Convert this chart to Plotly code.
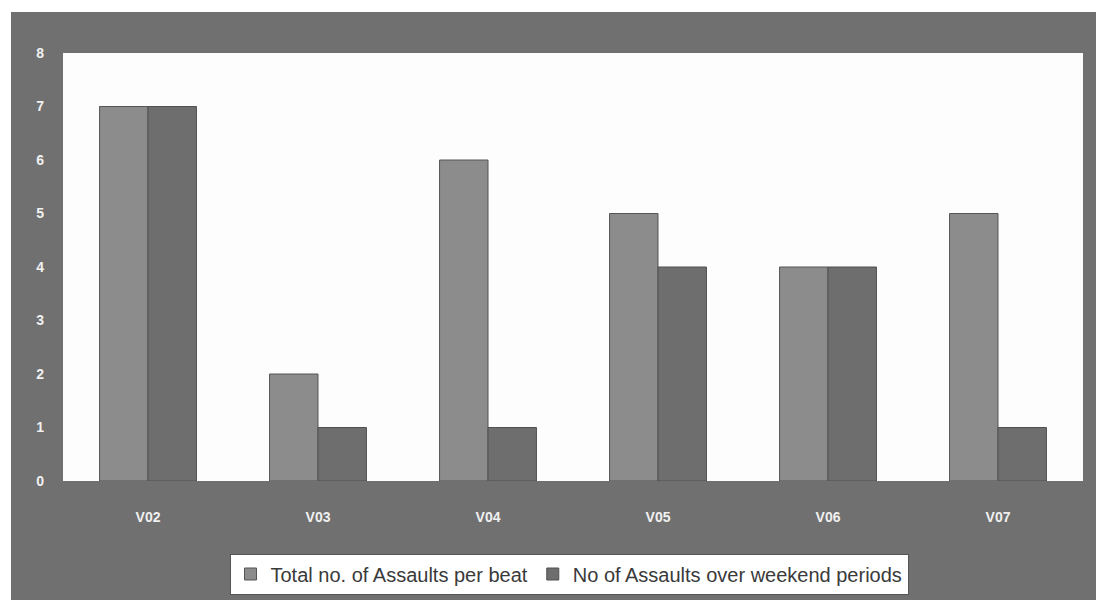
import plotly.graph_objects as go

categories = ["V02", "V03", "V04", "V05", "V06", "V07"]
total_assaults = [7, 2, 6, 5, 4, 5]
weekend_assaults = [7, 1, 1, 4, 4, 1]
series_names = ["Total no. of Assaults per beat", "No of Assaults over weekend periods"]
y_ticks = [0, 1, 2, 3, 4, 5, 6, 7, 8]

# page body adds an 8px offset; figure coordinates below account for it
W, H = 1104, 600
L, R, T, B = 55, 29, 45, 127
PW, PH = W - L - R, H - T - B


def px_x(x):
    return (x - L) / PW


def px_y(y):
    return (H - B - y) / PH


fig = go.Figure()
fig.add_trace(go.Bar(x=categories, y=total_assaults, name=series_names[0],
                     marker=dict(color="#8c8c8c", line=dict(color="#555555", width=1))))
fig.add_trace(go.Bar(x=categories, y=weekend_assaults, name=series_names[1],
                     marker=dict(color="#6e6e6e", line=dict(color="#505050", width=1))))

# white strips outside the grey frame
fig.add_shape(type="rect", xref="paper", yref="paper",
              x0=px_x(0), x1=px_x(3), y0=px_y(H), y1=px_y(0),
              fillcolor="white", line=dict(width=0), layer="below")
fig.add_shape(type="rect", xref="paper", yref="paper",
              x0=px_x(0), x1=px_x(W), y0=px_y(4), y1=px_y(0),
              fillcolor="white", line=dict(width=0), layer="below")

fig.update_layout(
    width=W, height=H,
    margin=dict(l=L, r=R, t=T, b=B),
    paper_bgcolor="#707070",
    plot_bgcolor="#fdfdfd",
    barmode="group",
    bargap=0.43,
    bargroupgap=0,
    font=dict(family="Liberation Sans, Arial, sans-serif"),
    showlegend=True,
    legend=dict(orientation="h", x=px_x(561), xanchor="center", y=px_y(566), yanchor="middle",
                bgcolor="white", bordercolor="#555555", borderwidth=1,
                font=dict(size=20, color="#3a3a3a", family="Liberation Sans, Arial, sans-serif"),
                itemwidth=30, tracegroupgap=0),
    xaxis=dict(showgrid=False, zeroline=False, showline=False, ticks="",
               tickfont=dict(size=14, color="#f0f0f0", weight="bold",
                             family="Liberation Sans, Arial, sans-serif"),
               ticklabelstandoff=26),
    yaxis=dict(range=[0, 8], tickvals=y_ticks, showgrid=False, zeroline=False, showline=False,
               ticks="", tickfont=dict(size=14, color="#f0f0f0", weight="bold",
                                       family="Liberation Sans, Arial, sans-serif"),
               ticklabelstandoff=18),
)

fig.write_html("out.html")
